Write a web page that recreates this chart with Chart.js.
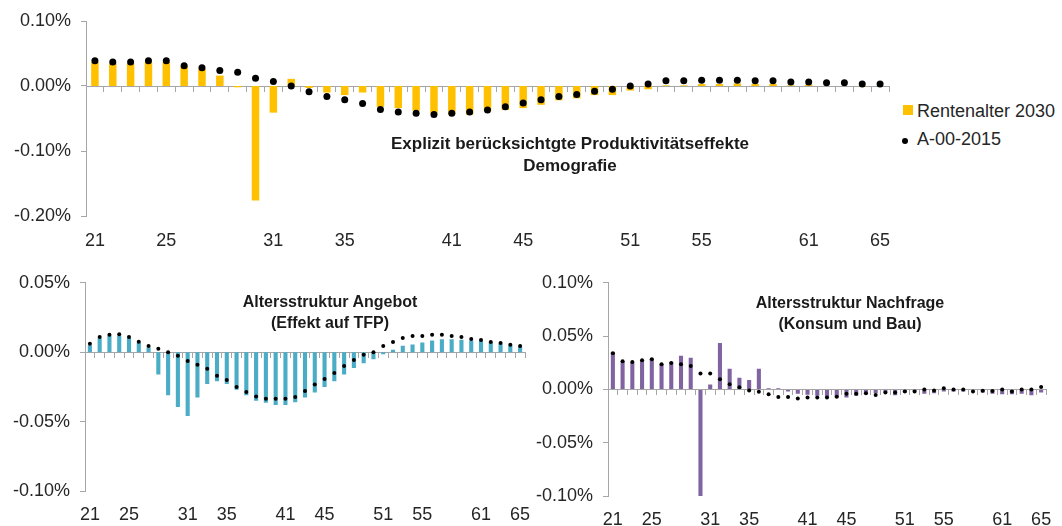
<!DOCTYPE html>
<html>
<head>
<meta charset="utf-8">
<script src="https://cdn.jsdelivr.net/npm/chart.js@4.4.1/dist/chart.umd.min.js"></script>
<style>
  body { margin: 0; background: #fff; width: 1062px; height: 526px; overflow: hidden; position: relative;
         font-family: "Liberation Sans", Arial, sans-serif; color: #262626; }
  .box { position: absolute; }
  .title { position: absolute; font-weight: bold; text-align: center; transform: translateX(-50%);
           white-space: nowrap; color: #1a1a1a; }
  .legend-text { position: absolute; font-size: 18px; line-height: 20px; white-space: nowrap; }
  .legend-square { position: absolute; width: 10px; height: 10px; background: #ffc000; }
  .legend-dot { position: absolute; width: 6px; height: 6px; border-radius: 50%; background: #000; }
</style>
</head>
<body>
<div class="box" style="left:0; top:0; width:900px; height:262px;"><canvas id="chart-top"></canvas></div>
<div class="box" style="left:0; top:262px; width:535px; height:264px;"><canvas id="chart-supply"></canvas></div>
<div class="box" style="left:528px; top:262px; width:534px; height:264px;"><canvas id="chart-demand"></canvas></div>

<div class="title" style="left:570px; top:133px; font-size:17px; line-height:22px;">Explizit berücksichtgte Produktivitätseffekte<br>Demografie</div>
<div class="title" style="left:330px; top:291px; font-size:16px; line-height:21px;">Altersstruktur Angebot<br>(Effekt auf TFP)</div>
<div class="title" style="left:850px; top:292px; font-size:16px; line-height:21px;">Altersstruktur Nachfrage<br>(Konsum und Bau)</div>

<div class="legend-square" style="left:903px; top:105px;"></div>
<div class="legend-text" style="left:917px; top:101px;">Rentenalter 2030</div>
<div class="legend-dot" style="left:902px; top:138px;"></div>
<div class="legend-text" style="left:917px; top:129px;">A-00-2015</div>

<script>
const categories = ["21", "22", "23", "24", "25", "26", "27", "28", "29", "30",
  "31", "32", "33", "34", "35", "36", "37", "38", "39", "40",
  "41", "42", "43", "44", "45", "46", "47", "48", "49", "50",
  "51", "52", "53", "54", "55", "56", "57", "58", "59", "60",
  "61", "62", "63", "64", "65"];
const shownTicks = ["21", "25", "31", "35", "41", "45", "51", "55", "61", "65"];

// values in percent
const topBars = [0.037, 0.035, 0.035, 0.037, 0.037, 0.031, 0.027, 0.016, -0.002, -0.176,
  -0.041, 0.011, -0.003, -0.010, -0.014, -0.010, -0.032, -0.034, -0.038, -0.042,
  -0.044, -0.044, -0.039, -0.037, -0.034, -0.029, -0.022, -0.019, -0.014, -0.014,
  -0.007, -0.005, 0.001, 0.001, 0.003, 0.003, 0.004, 0.003, 0.003, 0.001,
  0.002, 0.000, 0.000, -0.001, 0.000];
const topDots = [0.039, 0.037, 0.037, 0.039, 0.039, 0.031, 0.028, 0.024, 0.021, 0.012,
  0.007, 0.000, -0.009, -0.016, -0.021, -0.027, -0.036, -0.040, -0.042, -0.044,
  -0.042, -0.040, -0.037, -0.032, -0.026, -0.021, -0.016, -0.013, -0.008, -0.005,
  0.000, 0.003, 0.008, 0.008, 0.009, 0.009, 0.009, 0.008, 0.008, 0.006,
  0.006, 0.005, 0.005, 0.003, 0.003];

const supplyBars = [0.005, 0.010, 0.012, 0.012, 0.0105, 0.007, 0.0033, -0.016, -0.031, -0.0395,
  -0.046, -0.0326, -0.023, -0.021, -0.023, -0.027, -0.031, -0.035, -0.0365, -0.038,
  -0.038, -0.036, -0.0326, -0.029, -0.025, -0.021, -0.016, -0.0114, -0.0079, -0.005,
  -0.0014, 0.0018, 0.0046, 0.0056, 0.007, 0.0084, 0.0093, 0.0093, 0.009, 0.0084,
  0.008, 0.0074, 0.006, 0.005, 0.004];
const supplyDots = [0.006, 0.011, 0.0125, 0.013, 0.011, 0.0075, 0.0045, 0.0025, 0.000, -0.0026,
  -0.0063, -0.009, -0.012, -0.017, -0.020, -0.025, -0.0286, -0.032, -0.0335, -0.0335,
  -0.0335, -0.0323, -0.028, -0.0233, -0.0193, -0.015, -0.010, -0.0056, -0.0019, 0.000,
  0.0044, 0.0074, 0.0102, 0.0116, 0.0116, 0.0125, 0.0125, 0.0116, 0.0109, 0.0095,
  0.0088, 0.0074, 0.0067, 0.0053, 0.0044];

const demandBars = [0.035, 0.0265, 0.0256, 0.0274, 0.029, 0.024, 0.0256, 0.0315, 0.0296, -0.100,
  0.0046, 0.0435, 0.0194, 0.011, 0.0089, 0.0194, 0.001, 0.001, -0.002, -0.004,
  -0.005, -0.006, -0.0077, -0.0077, -0.0077, -0.006, -0.0046, -0.0037, -0.003, -0.0055,
  -0.003, -0.0015, -0.004, -0.0037, -0.002, -0.002, -0.002, -0.001, -0.003, -0.004,
  -0.0046, -0.0046, -0.004, -0.0055, -0.003];
const demandDots = [0.034, 0.0265, 0.0256, 0.0274, 0.0284, 0.0237, 0.0247, 0.0237, 0.0219, 0.0148,
  0.0148, 0.0095, 0.0049, 0.0019, -0.001, -0.0022, -0.0046, -0.0071, -0.0071, -0.0086,
  -0.0077, -0.0077, -0.0077, -0.0068, -0.004, -0.004, -0.0037, -0.0052, -0.0028, -0.003,
  -0.0019, -0.0019, 0.000, -0.001, 0.001, 0.000, 0.000, -0.0019, -0.0012, -0.0015,
  0.000, -0.0019, 0.000, 0.000, 0.0022];

const AXIS_GREY = "#a6a6a6";
const TEXT_COLOR = "#262626";

Chart.defaults.font.family = '"Liberation Sans", Arial, sans-serif';
Chart.defaults.font.size = 18;
Chart.defaults.color = TEXT_COLOR;

function buildChart(canvasId, cfg) {
  return new Chart(document.getElementById(canvasId), {
    type: "bar",
    data: {
      labels: categories,
      datasets: [
        {
          type: "line",
          label: "A-00-2015",
          data: cfg.dots,
          showLine: false,
          pointRadius: cfg.dotRadius,
          pointBackgroundColor: "#000",
          pointBorderColor: "#000",
          pointBorderWidth: 0,
          order: 1
        },
        {
          label: "Rentenalter 2030",
          data: cfg.bars,
          backgroundColor: cfg.color,
          categoryPercentage: 1,
          barPercentage: 0.42,
          order: 2
        }
      ]
    },
    options: {
      responsive: true,
      maintainAspectRatio: false,
      animation: false,
      layout: {
        padding: cfg.padding
      },
      plugins: {
        legend: { display: false },
        tooltip: { enabled: false }
      },
      scales: {
        x: {
          type: "category",
          position: "bottom",
          offset: true,
          // invisible tick marks only push the labels down
          grid: { display: false, drawTicks: true, tickLength: cfg.xPad, offset: true },
          border: { display: false },
          ticks: {
            autoSkip: false,
            maxRotation: 0,
            minRotation: 0,
            padding: 0,
            callback(value) {
              const label = this.getLabelForValue(value);
              return shownTicks.includes(label) ? label : "";
            }
          },
          afterFit(scale) {
            scale.height = cfg.xHeight;
          }
        },
        // category axis drawn along the zero line (tick marks only)
        xz: {
          type: "category",
          axis: "x",
          position: { y: 0 },
          offset: true,
          grid: { offset: true, drawOnChartArea: false, drawTicks: true, tickLength: 5, color: AXIS_GREY },
          border: { color: AXIS_GREY, width: 1 },
          ticks: { display: false }
        },
        y: {
          min: cfg.yMin,
          max: cfg.yMax,
          ticks: {
            stepSize: cfg.step,
            padding: 10,
            callback(value) {
              return value.toFixed(2) + "%";
            }
          },
          grid: { drawOnChartArea: false, drawTicks: true, tickLength: 5, color: AXIS_GREY },
          border: { color: AXIS_GREY, width: 1 },
          afterFit(scale) {
            scale.width = cfg.yWidth;
          }
        }
      }
    }
  });
}

buildChart("chart-top", {
  bars: topBars, dots: topDots, color: "#ffc000", dotRadius: 3.5,
  yMin: -0.2, yMax: 0.1, step: 0.1,
  padding: { top: 21, right: 11, bottom: 0, left: 0 },
  yWidth: 86, xHeight: 46, xPad: 14
});

buildChart("chart-supply", {
  bars: supplyBars, dots: supplyDots, color: "#4bacc6", dotRadius: 2,
  yMin: -0.1, yMax: 0.05, step: 0.05,
  padding: { top: 14, right: 10, bottom: 0, left: 0 },
  yWidth: 85, xHeight: 35, xPad: 13
});

buildChart("chart-demand", {
  bars: demandBars, dots: demandDots, color: "#8064a2", dotRadius: 2,
  yMin: -0.1, yMax: 0.1, step: 0.05,
  padding: { top: 18, right: 16, bottom: 0, left: 0 },
  yWidth: 80, xHeight: 30, xPad: 13
});
</script>
</body>
</html>
